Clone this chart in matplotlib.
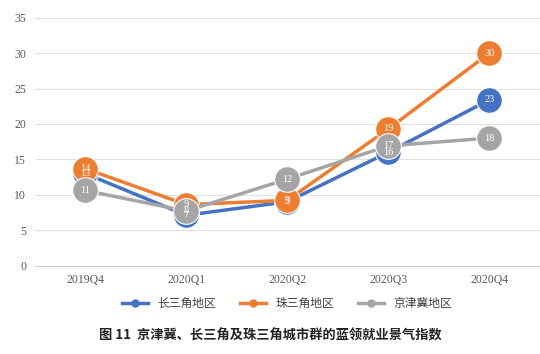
import matplotlib
matplotlib.use('Agg')
import matplotlib.pyplot as plt
import numpy as np

plt.rcParams['font.family'] = ['Noto Sans CJK SC', 'DejaVu Sans']

quarters = ['2019Q4', '2020Q1', '2020Q2', '2020Q3', '2020Q4']
yangtze = [13.0, 7.1, 9.0, 16.0, 23.4]
pearl = [13.7, 8.6, 9.2, 19.3, 30.0]
jingjinji = [10.6, 7.7, 12.2, 16.9, 18.0]
names = ['长三角地区', '珠三角地区', '京津冀地区']
colors = ['#4472C4', '#ED7D31', '#A5A5A5']

fig = plt.figure(figsize=(5.4, 3.54), dpi=100)
ax = fig.add_axes([0.064, 0.25, 0.936, 0.70])

x = np.arange(len(quarters))
for i, (vals, name, c) in enumerate(zip([yangtze, pearl, jingjinji], names, colors)):
    ax.plot(x, vals, color=c, lw=2.5, label=name, zorder=2 + i)
    ax.plot(x, vals, 'o', ms=18.5, color=c, mec='white', mew=0.8, zorder=2 + i)
    for xi, v in zip(x, vals):
        ax.text(xi, v, str(int(round(v))), ha='center', va='center', color='white',
                fontsize=7.5, family='Liberation Serif', zorder=10)

# legend proxies with small markers
handles = [plt.Line2D([], [], color=c, lw=2.5, marker='o', ms=5) for c in colors]
ax.legend(handles, names, loc='upper center', bbox_to_anchor=(0.5, -0.085), ncol=3,
          frameon=False, fontsize=8.5, handlelength=2.2, columnspacing=2.0,
          labelcolor='#404040')

ax.set_xlim(-0.5, 4.5)
ax.set_ylim(0, 35)
ax.set_yticks(range(0, 36, 5))
ax.set_xticks(x)
ax.set_xticklabels(quarters)
ax.tick_params(length=0, labelsize=8.5, colors='#595959', pad=6)
for lab in ax.get_xticklabels() + ax.get_yticklabels():
    lab.set_family('Liberation Serif')
ax.yaxis.grid(True, color='#E0E0E0', lw=0.8)
ax.set_axisbelow(True)
for s in ['top', 'right', 'left']:
    ax.spines[s].set_visible(False)
ax.spines['bottom'].set_color('#D0D0D0')

fig.text(0.5, 0.04, '图 11  京津冀、长三角及珠三角城市群的蓝领就业景气指数', ha='center',
         fontsize=9.5, fontweight='bold', color='#222222')

fig.savefig('out.png', dpi=100)
